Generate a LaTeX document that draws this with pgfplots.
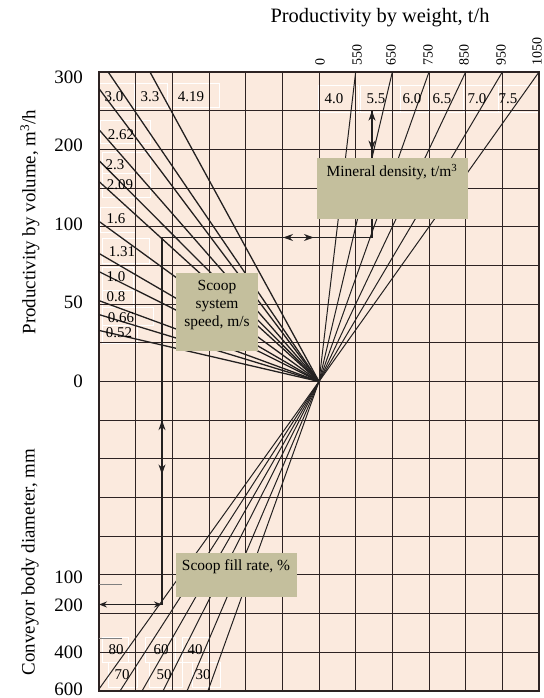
\documentclass[border=0pt]{standalone}
\usepackage{fontspec}
\setmainfont{Liberation Serif}
\usepackage{pgfplots}
\pgfplotsset{compat=1.18}
\usetikzlibrary{arrows.meta}
\definecolor{bg}{RGB}{251,234,222}
\definecolor{khaki}{RGB}{196,191,157}
\definecolor{gridc}{RGB}{45,35,35}
\definecolor{fan}{RGB}{35,32,32}
\begin{document}
\begin{tikzpicture}[x=1bp,y=1bp]
\useasboundingbox (0,0) rectangle (544,698);
% background of nomogram
\fill[bg] (99,7) rectangle (539,626);
% white label frames (y = 698 - pixel row)
\begin{scope}[white, line width=0.8pt]
% speed labels
\draw (98,615) rectangle (134,591);
\draw (134,615) rectangle (167,591);
\draw (172,615) rectangle (219,591);
\draw (100,578) rectangle (150,555);
\draw (102,546) rectangle (150,525);
\draw (102,525) rectangle (150,501);
\draw (100,491) rectangle (135,466);
\draw (102,460) rectangle (149,435);
\draw (102,431) rectangle (133,408);
\draw (102,408) rectangle (133,391);
\draw (102,391) rectangle (153,373);
\draw (102,373) rectangle (137,355);
% density labels
\draw (318,613) rectangle (358,586);
\draw (360,613) rectangle (400,586);
\draw (400,613) rectangle (428,586);
\draw (428,613) rectangle (463,586);
\draw (463,613) rectangle (498,586);
\draw (498,613) rectangle (540,586);
% fill-rate labels
\draw (102,61) rectangle (128,36);
\draw (145,61) rectangle (175,36);
\draw (182,61) rectangle (208,36);
\draw (108,36) rectangle (137,11);
\draw (149,36) rectangle (182,11);
\draw (192,36) rectangle (220,11);
\end{scope}
\begin{axis}[
  at={(99bp,7bp)}, anchor=south west,
  width=440bp, height=619bp, scale only axis,
  xmin=0, xmax=12, ymin=-8, ymax=8,
  xtick={0,...,12}, ytick={-8,...,8},
  xticklabels={}, yticklabels={},
  major tick length=0pt,
  grid=major,
  grid style={gridc, line width=1.0pt},
  axis line style={gridc, line width=1.2pt},
  clip=false,
]
% Scoop system speed fan (upper left)
\addplot[fan, line width=1.3pt] coordinates {(6,0) (1.39,8)};    % 4.19
\addplot[fan, line width=1.3pt] coordinates {(6,0) (0.25,8)};    % 3.3
\addplot[fan, line width=1.3pt] coordinates {(6,0) (0,7.57)};    % 3.0
\addplot[fan, line width=1.3pt] coordinates {(6,0) (0,6.51)};    % 2.62
\addplot[fan, line width=1.3pt] coordinates {(6,0) (0,5.71)};    % 2.3
\addplot[fan, line width=1.3pt] coordinates {(6,0) (0,5.17)};    % 2.09
\addplot[fan, line width=1.3pt] coordinates {(6,0) (0,4.14)};    % 1.6
\addplot[fan, line width=1.3pt] coordinates {(6,0) (0,3.31)};    % 1.31
\addplot[fan, line width=1.3pt] coordinates {(6,0) (0,2.84)};    % 1.0
\addplot[fan, line width=1.3pt] coordinates {(6,0) (0,2.09)};    % 0.8
\addplot[fan, line width=1.3pt] coordinates {(6,0) (0,1.73)};    % 0.66
\addplot[fan, line width=1.3pt] coordinates {(6,0) (0,1.32)};    % 0.52
% Mineral density fan (upper right)
\addplot[fan, line width=1.0pt] coordinates {(6,0) (7,8)};
\addplot[fan, line width=1.0pt] coordinates {(6,0) (8,8)};
\addplot[fan, line width=1.0pt] coordinates {(6,0) (9,8)};
\addplot[fan, line width=1.0pt] coordinates {(6,0) (10,8)};
\addplot[fan, line width=1.0pt] coordinates {(6,0) (11,8)};
\addplot[fan, line width=1.0pt] coordinates {(6,0) (12,8)};
% Scoop fill rate fan (lower left)
\addplot[fan, line width=1.0pt] coordinates {(6,0) (0,-7.95)};
\addplot[fan, line width=1.0pt] coordinates {(6,0) (0.573,-8)};
\addplot[fan, line width=1.0pt] coordinates {(6,0) (1.173,-8)};
\addplot[fan, line width=1.0pt] coordinates {(6,0) (1.745,-8)};
\addplot[fan, line width=1.0pt] coordinates {(6,0) (2.40,-8)};
\addplot[fan, line width=1.0pt] coordinates {(6,0) (2.97,-8)};
% guide path
\addplot[fan, line width=1.3pt] coordinates {(7.445,7.0) (7.445,3.722) (1.718,3.722) (1.718,-5.764) (0,-5.764)};
% double arrows
\addplot[fan, line width=1.3pt, {Stealth[length=10pt,width=7pt]}-{Stealth[length=10pt,width=7pt]}] coordinates {(7.445,7.0) (7.445,5.97)};
\addplot[fan, line width=1.3pt, {Stealth[length=10pt,width=7pt]}-{Stealth[length=10pt,width=7pt]}] coordinates {(5.02,3.722) (5.86,3.722)};
\addplot[fan, line width=1.3pt, {Stealth[length=10pt,width=7pt]}-{Stealth[length=10pt,width=7pt]}] coordinates {(1.718,-1.0) (1.718,-2.4)};
\addplot[fan, line width=1.3pt, {Stealth[length=8pt,width=6pt]}-{Stealth[length=8pt,width=6pt]}] coordinates {(0,-5.764) (1.718,-5.764)};
% short grey marks on diameter scale
\addplot[gray, line width=1.2pt] coordinates {(0,-5.247) (0.627,-5.247)};
\addplot[gray, line width=1.2pt] coordinates {(0,-6.643) (0.627,-6.643)};
\end{axis}
% khaki boxes
\fill[khaki] (176,425) rectangle (258,347);
\fill[khaki] (317,540) rectangle (468,479);
\fill[khaki] (176,145) rectangle (297,101);
% box texts
\node[font=\fontsize{15.5}{18}\selectfont, align=center] at (217,393) {Scoop\\system\\speed, m/s};
\node[font=\fontsize{15.5}{18}\selectfont] at (392,526) {Mineral density, t/m\textsuperscript{3}};
\node[font=\fontsize{15.5}{18}\selectfont] at (236,131) {Scoop fill rate, \%};
% speed labels
\begin{scope}[font=\fontsize{15}{17}\selectfont]
\node at (114,601) {3.0};
\node at (150,601) {3.3};
\node at (191,601) {4.19};
\node at (121,563) {2.62};
\node at (115,533) {2.3};
\node at (120,513) {2.09};
\node at (116,479) {1.6};
\node at (122,446) {1.31};
\node at (116,421) {1.0};
\node at (116,401) {0.8};
\node at (121,380) {0.66};
\node at (119,365) {0.52};
% density labels
\node at (334,599) {4.0};
\node at (376,599) {5.5};
\node at (412,599) {6.0};
\node at (442,599) {6.5};
\node at (477,599) {7.0};
\node at (508,599) {7.5};
% fill rate labels
\node at (116,48) {80};
\node at (161,48) {60};
\node at (195,48) {40};
\node at (122,23) {70};
\node at (164,23) {50};
\node at (203,23) {30};
\end{scope}
% top weight ticks
\begin{scope}[font=\fontsize{14}{16}\selectfont]
\foreach \xx/\lab in {320/0, 357/550, 391/650, 428/750, 464/850, 501/950, 537/1050}
  \node[rotate=90, anchor=west, inner sep=0pt] at (\xx,632) {\lab};
\end{scope}
% left ticks
\begin{scope}[font=\fontsize{19}{21}\selectfont]
\node[anchor=east, inner sep=0pt] at (83,621) {300};
\node[anchor=east, inner sep=0pt] at (83,553) {200};
\node[anchor=east, inner sep=0pt] at (83,474) {100};
\node[anchor=east, inner sep=0pt] at (83,396) {50};
\node[anchor=east, inner sep=0pt] at (83,317) {0};
\node[anchor=east, inner sep=0pt] at (83,121) {100};
\node[anchor=east, inner sep=0pt] at (83,93) {200};
\node[anchor=east, inner sep=0pt] at (83,46) {400};
\node[anchor=east, inner sep=0pt] at (83,9) {600};
\end{scope}
% titles
\node[font=\fontsize{20.5}{23}\selectfont] at (380,680) {Productivity by weight, t/h};
\node[font=\fontsize{19}{21}\selectfont, rotate=90] at (30,476) {Productivity by volume, m\textsuperscript{3}/h};
\node[font=\fontsize{19}{21}\selectfont, rotate=90] at (30,136) {Conveyor body diameter, mm};
\end{tikzpicture}
\end{document}
